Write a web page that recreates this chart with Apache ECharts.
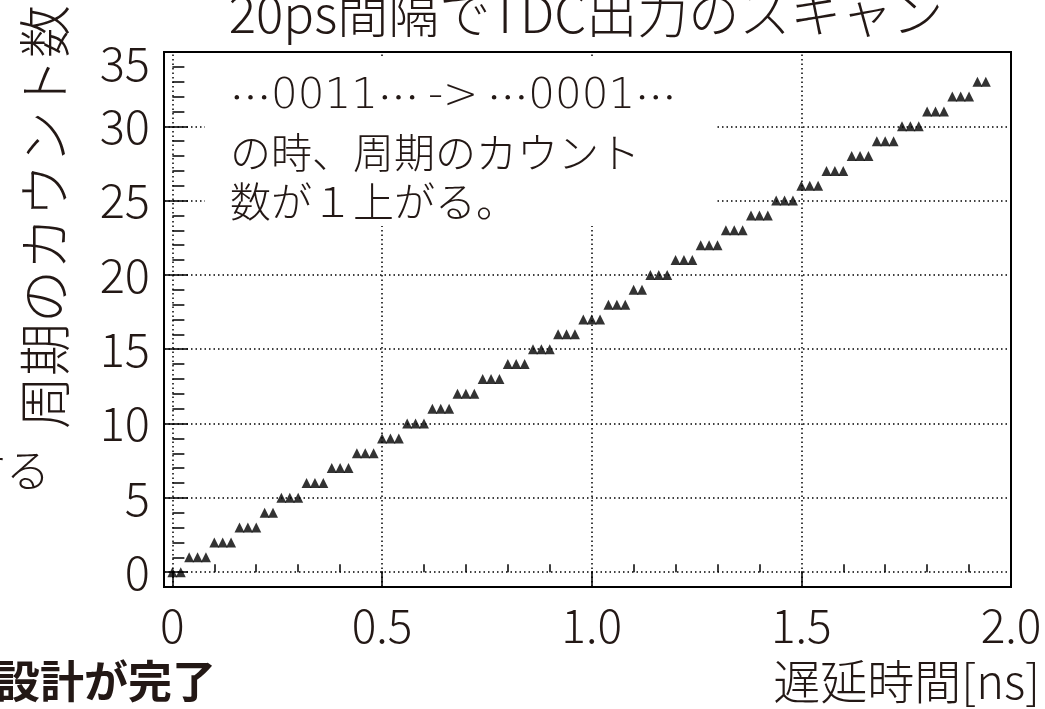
<!DOCTYPE html>
<html>
<head>
<meta charset="utf-8">
<script src="https://cdn.jsdelivr.net/npm/echarts@6/dist/echarts.min.js"></script>
<style>
html,body{margin:0;padding:0;background:#fff;}
#chart{width:1045px;height:709px;}
</style>
</head>
<body>
<div id="chart"></div>
<script>
// delay [ns], scanned at 20 ps steps
const delays = [0,0.02,0.04,0.06,0.08,0.10,0.12,0.14,0.16,0.18,0.20,0.22,0.24,0.26,0.28,0.30,0.32,0.34,0.36,0.38,0.40,0.42,0.44,0.46,0.48,0.50,0.52,0.54,0.56,0.58,0.60,0.62,0.64,0.66,0.68,0.70,0.72,0.74,0.76,0.78,0.80,0.82,0.84,0.86,0.88,0.90,0.92,0.94,0.96,0.98,1.00,1.02,1.04,1.06,1.08,1.10,1.12,1.14,1.16,1.18,1.20,1.22,1.24,1.26,1.28,1.30,1.32,1.34,1.36,1.38,1.40,1.42,1.44,1.46,1.48,1.50,1.52,1.54,1.56,1.58,1.60,1.62,1.64,1.66,1.68,1.70,1.72,1.74,1.76,1.78,1.80,1.82,1.84,1.86,1.88,1.90,1.92,1.94];
// period counts
const counts = [0,0,1,1,1,2,2,2,3,3,3,4,4,5,5,5,6,6,6,7,7,7,8,8,8,9,9,9,10,10,10,11,11,11,12,12,12,13,13,13,14,14,14,15,15,15,16,16,16,17,17,17,18,18,18,19,19,20,20,20,21,21,21,22,22,22,23,23,23,24,24,24,25,25,25,26,26,26,27,27,27,28,28,28,29,29,29,30,30,30,31,31,31,32,32,32,33,33];

const xMajorTicks = [0,0.5,1.0,1.5,2.0];
const xTickLabels = ['0','0.5','1.0','1.5','2.0'];
const xMinorTicks = [0.1,0.2,0.3,0.4,0.6,0.7,0.8,0.9,1.1,1.2,1.3,1.4,1.6,1.7,1.8,1.9];
const yMajorTicks = [0,5,10,15,20,25,30,35];
const yTickLabels = ['0','5','10','15','20','25','30','35'];
const yMinorTicks = [1,2,3,4,6,7,8,9,11,12,13,14,16,17,18,19,21,22,23,24,26,27,28,29,31,32,33,34];

const titleText = '20ps間隔でTDC出力のスキャン';
const xTitle = '遅延時間[ns]';
const yTitle = '周期のカウント数';
const noteLine1 = '…{d|0011}… {d|->} …{d|0001}…';
const noteLines = ['の時、周期のカウント', '数が１上がる。'];

const FONT = "'Noto Sans CJK JP', 'Noto Sans', sans-serif";
const LATIN = "'DejaVu Sans', 'Noto Sans', sans-serif";
const TXT = '#231815';
const W = 300;

const points = delays.map((d, i) => [d, counts[i]]);

const gridLines = [];
xMajorTicks.forEach(v => gridLines.push({xAxis: v}));
yMajorTicks.forEach(v => gridLines.push({yAxis: v}));

const chart = echarts.init(document.getElementById('chart'), null, {renderer: 'canvas'});
const XMIN = -0.02, XMAX = 2.0, YMIN = -1, YMAX = 35;

chart.setOption({
  animation: false,
  backgroundColor: '#fff',
  grid: {left: 164, right: 34, top: 52, bottom: 122, show: true, borderColor: '#000', borderWidth: 2, containLabel: false, outerBoundsMode: 'none'},
  xAxis: [
    {type: 'value', position: 'bottom', min: XMIN, max: XMAX,
     axisLine: {show: true, onZero: false, lineStyle: {color: '#000', width: 2}},
     axisTick: {show: true, inside: true, length: 16, customValues: xMajorTicks, lineStyle: {color: '#000', width: 1.5}},
     axisLabel: {show: true, customValues: xMajorTicks, margin: 16, fontSize: 46, fontWeight: W, fontFamily: FONT, color: TXT,
       formatter: v => { const i = xMajorTicks.findIndex(t => Math.abs(t - v) < 1e-9); return i >= 0 ? xTickLabels[i] : ''; }},
     splitLine: {show: false}},
    {type: 'value', position: 'bottom', min: XMIN, max: XMAX,
     axisLine: {show: false},
     axisTick: {show: true, inside: true, length: 8, customValues: xMinorTicks, lineStyle: {color: '#000', width: 1.5}},
     axisLabel: {show: false}, splitLine: {show: false}}
  ],
  yAxis: [
    {type: 'value', position: 'left', min: YMIN, max: YMAX,
     axisLine: {show: true, onZero: false, lineStyle: {color: '#000', width: 2}},
     axisTick: {show: true, inside: true, length: 24, customValues: yMajorTicks, lineStyle: {color: '#000', width: 1.5}},
     axisLabel: {show: true, customValues: yMajorTicks, margin: 14, fontSize: 47, fontWeight: W, fontFamily: FONT, color: TXT,
       formatter: v => { const i = yMajorTicks.indexOf(v); if (i < 0) return ''; return v === 35 ? '{low|' + yTickLabels[i] + '}' : yTickLabels[i]; },
       rich: {low: {fontSize: 47, fontWeight: W, fontFamily: FONT, color: TXT, padding: [22, 0, 0, 0]}}},
     splitLine: {show: false}},
    {type: 'value', position: 'left', min: YMIN, max: YMAX,
     axisLine: {show: false},
     axisTick: {show: true, inside: true, length: 12, customValues: yMinorTicks, lineStyle: {color: '#000', width: 1.5}},
     axisLabel: {show: false}, splitLine: {show: false}}
  ],
  series: [{
    type: 'scatter', xAxisIndex: 0, yAxisIndex: 0, z: 4,
    symbol: 'triangle', symbolSize: [10, 10],
    itemStyle: {color: '#000'},
    data: points,
    markLine: {
      z: 1, silent: true, symbol: ['none', 'none'], label: {show: false},
      lineStyle: {color: '#000', width: 1.5, type: [1.5, 3], opacity: 1},
      emphasis: {disabled: true},
      data: gridLines
    }
  }],
  graphic: [
    {type: 'rect', z: 3, shape: {x: 205, y: 56, width: 511, height: 170}, style: {fill: '#fff'}},
    {type: 'text', z: 5, x: 230, y: 97, style: {text: noteLine1, font: W + ' 41px ' + FONT, fill: TXT, textAlign: 'left', textVerticalAlign: 'middle',
      rich: {d: {fontFamily: LATIN, fontSize: 42, fontWeight: 200, fill: TXT}}}},
    {type: 'text', z: 5, x: 230, y: 152, style: {text: noteLines[0], font: W + ' 41px ' + FONT, fill: TXT, textAlign: 'left', textVerticalAlign: 'middle'}},
    {type: 'text', z: 5, x: 230, y: 201, style: {text: noteLines[1], font: W + ' 41px ' + FONT, fill: TXT, textAlign: 'left', textVerticalAlign: 'middle'}},
    {type: 'text', z: 5, x: 586, y: 14, style: {text: titleText, font: W + ' 51px ' + FONT, fill: TXT, textAlign: 'center', textVerticalAlign: 'middle'}},
    {type: 'text', z: 5, x: 45, y: 217, rotation: Math.PI / 2, style: {text: yTitle, font: W + ' 53px ' + FONT, fill: TXT, textAlign: 'center', textVerticalAlign: 'middle'}},
    {type: 'text', z: 5, x: 1040, y: 681, style: {text: xTitle, font: W + ' 47px ' + FONT, fill: TXT, textAlign: 'right', textVerticalAlign: 'middle'}},
    {type: 'text', z: 5, x: 50, y: 470, style: {text: 'する', font: W + ' 44px ' + FONT, fill: TXT, textAlign: 'right', textVerticalAlign: 'middle'}},
    {type: 'text', z: 5, x: -4, y: 681, style: {text: '設計が完了', font: 'bold 44px ' + FONT, fill: TXT, textAlign: 'left', textVerticalAlign: 'middle'}}
  ]
});
</script>
</body>
</html>
